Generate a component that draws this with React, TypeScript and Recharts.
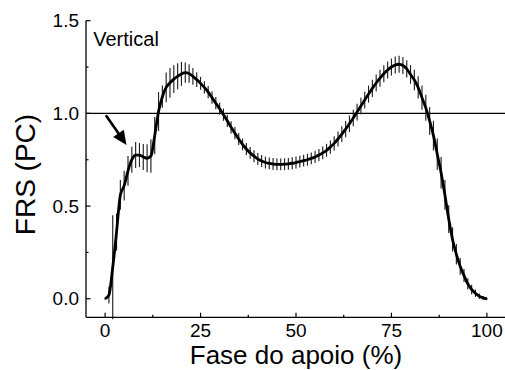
import React from 'react'
import {
  ComposedChart,
  Line,
  ErrorBar,
  XAxis,
  YAxis,
  ReferenceLine,
  ReferenceDot,
} from 'recharts'

const FONT = '"Liberation Sans", Arial, Helvetica, sans-serif'

// stance phase (%)
const phase = [
  0, 1, 2, 3, 4, 5, 6, 7, 8, 9, 10, 11, 12, 13, 14, 15, 16, 17, 18, 19, 20,
  21, 22, 23, 24, 25, 26, 27, 28, 29, 30, 31, 32, 33, 34, 35, 36, 37, 38, 39, 40,
  41, 42, 43, 44, 45, 46, 47, 48, 49, 50, 51, 52, 53, 54, 55, 56, 57, 58, 59, 60,
  61, 62, 63, 64, 65, 66, 67, 68, 69, 70, 71, 72, 73, 74, 75, 76, 77, 78, 79, 80,
  81, 82, 83, 84, 85, 86, 87, 88, 89, 90, 91, 92, 93, 94, 95, 96, 97, 98, 99, 100,
]

// mean vertical GRF (body weight)
const meanFRS = [
  0.0, 0.02, 0.17, 0.36, 0.56, 0.61, 0.69, 0.75, 0.775, 0.775, 0.765,
  0.758, 0.77, 0.88, 1.01, 1.09, 1.14, 1.165, 1.185, 1.2, 1.213,
  1.22, 1.215, 1.2, 1.182, 1.162, 1.14, 1.115, 1.085, 1.055, 1.025,
  0.993, 0.96, 0.925, 0.893, 0.862, 0.833, 0.808, 0.787, 0.769, 0.754,
  0.743, 0.735, 0.73, 0.727, 0.725, 0.725, 0.726, 0.728, 0.731, 0.735,
  0.74, 0.745, 0.75, 0.757, 0.765, 0.775, 0.787, 0.801, 0.818, 0.838,
  0.862, 0.888, 0.915, 0.944, 0.975, 1.007, 1.04, 1.072, 1.104, 1.135,
  1.164, 1.19, 1.214, 1.234, 1.25, 1.261, 1.265, 1.258, 1.24, 1.21,
  1.18, 1.14, 1.085, 1.03, 0.96, 0.88, 0.78, 0.68, 0.56, 0.43,
  0.32, 0.24, 0.175, 0.125, 0.08, 0.05, 0.03, 0.014, 0.005, 0.0,
]

// standard deviation
const sdFRS = [
  0.005, 0.045, 0.28, 0.1, 0.08, 0.08, 0.08, 0.07, 0.07, 0.065, 0.07,
  0.075, 0.09, 0.1, 0.105, 0.06, 0.08, 0.08, 0.075, 0.07, 0.065,
  0.055, 0.05, 0.045, 0.04, 0.035, 0.033, 0.033, 0.033, 0.033, 0.033,
  0.033, 0.033, 0.033, 0.033, 0.032, 0.032, 0.032, 0.032, 0.032, 0.032,
  0.032, 0.032, 0.032, 0.032, 0.032, 0.032, 0.032, 0.032, 0.032, 0.032,
  0.032, 0.032, 0.032, 0.032, 0.033, 0.033, 0.034, 0.035, 0.036, 0.038,
  0.04, 0.042, 0.044, 0.045, 0.045, 0.045, 0.045, 0.045, 0.046, 0.046,
  0.046, 0.046, 0.046, 0.046, 0.046, 0.046, 0.046, 0.046, 0.047, 0.05,
  0.055, 0.06, 0.065, 0.07, 0.075, 0.08, 0.085, 0.085, 0.08, 0.075,
  0.065, 0.055, 0.045, 0.035, 0.03, 0.025, 0.02, 0.015, 0.01, 0.005,
]

const xTicks = [0, 12.5, 25, 37.5, 50, 62.5, 75, 87.5, 100]
const xMajor = [0, 25, 50, 75, 100]
const yTicks = [0, 0.25, 0.5, 0.75, 1, 1.25, 1.5]
const yMajor = [0, 0.5, 1, 1.5]

const chartData = phase.map((p, i) => ({
  phase: p,
  mean: meanFRS[i],
  sd: sdFRS[i],
}))

const BottomTick = (props: any) => {
  const { x, y, payload } = props
  const major = xMajor.includes(payload.value)
  return (
    <g>
      <line x1={x} x2={x} y1={y} y2={y - (major ? 4.5 : 2.5)} stroke="#000" strokeWidth={1.2} />
      {major && (
        <text x={x} y={y + 20} textAnchor="middle" fontSize={19} fontFamily={FONT} fill="#000">
          {payload.value}
        </text>
      )}
    </g>
  )
}

const TopTick = (props: any) => {
  const { x, y, payload } = props
  const major = xMajor.includes(payload.value)
  return <line x1={x} x2={x} y1={y} y2={y + (major ? 4.5 : 2.5)} stroke="#000" strokeWidth={1.2} />
}

const LeftTick = (props: any) => {
  const { x, y, payload } = props
  const major = yMajor.includes(payload.value)
  return (
    <g>
      <line x1={x} x2={x + (major ? 4.5 : 2.5)} y1={y} y2={y} stroke="#000" strokeWidth={1.2} />
      {major && (
        <text x={x - 7} y={y + 6.6} textAnchor="end" fontSize={19} fontFamily={FONT} fill="#000">
          {payload.value.toFixed(1)}
        </text>
      )}
    </g>
  )
}

const RightTick = (props: any) => {
  const { x, y, payload } = props
  const major = yMajor.includes(payload.value)
  return <line x1={x} x2={x - (major ? 4.5 : 2.5)} y1={y} y2={y} stroke="#000" strokeWidth={1.2} />
}

const Arrow = (p: any) => {
  const { x1, y1, x2, y2 } = p
  const dx = x2 - x1
  const dy = y2 - y1
  const len = Math.hypot(dx, dy) || 1
  const ux = dx / len
  const uy = dy / len
  const hl = 14
  const hw = 6.5
  const bx = x2 - ux * hl
  const by = y2 - uy * hl
  return (
    <g>
      <line x1={x1} y1={y1} x2={bx + ux * 2} y2={by + uy * 2} stroke="#000" strokeWidth={2.6} />
      <polygon
        points={`${x2},${y2} ${bx - uy * hw},${by + ux * hw} ${bx + uy * hw},${by - ux * hw}`}
        fill="#000"
      />
    </g>
  )
}

const App = () => {
  return (
    <div style={{ position: 'absolute', left: 0, top: 0, width: 505, height: 370, overflow: 'hidden', background: '#fff' }}>
      <ComposedChart
        width={506}
        height={370}
        data={chartData}
        margin={{ top: 20.7, right: 0, left: 0, bottom: 0 }}
      >
        <XAxis
          dataKey="phase"
          type="number"
          domain={[-5, 105]}
          ticks={xTicks}
          interval={0}
          tickSize={0}
          tickMargin={0}
          tickLine={false}
          tick={<BottomTick />}
          height={52.7}
          axisLine={{ stroke: '#000', strokeWidth: 1.3 }}
          allowDataOverflow
          label={{
            content: (p: any) => {
              const vb = p.viewBox || { x: 86, y: 317.3, width: 420, height: 52.7 }
              return (
                <text
                  x={vb.x + vb.width / 2}
                  y={vb.y + 46.7}
                  textAnchor="middle"
                  fontSize={26}
                  fontFamily={FONT}
                  fill="#000"
                >
                  Fase do apoio (%)
                </text>
              )
            },
          }}
        />
        <XAxis
          xAxisId="top"
          dataKey="phase"
          type="number"
          orientation="top"
          domain={[-5, 105]}
          ticks={xTicks}
          interval={0}
          tickSize={0}
          tickMargin={0}
          tickLine={false}
          tick={<TopTick />}
          height={0}
          axisLine={{ stroke: '#000', strokeWidth: 1.3 }}
          allowDataOverflow
        />
        <YAxis
          type="number"
          domain={[-0.1, 1.5]}
          ticks={yTicks}
          interval={0}
          tickSize={0}
          tickMargin={0}
          tickLine={false}
          tick={<LeftTick />}
          width={86}
          axisLine={{ stroke: '#000', strokeWidth: 1.3 }}
          allowDataOverflow
          label={{
            content: (p: any) => {
              const vb = p.viewBox || { x: 0, y: 20.7, width: 86, height: 296.6 }
              const cx = vb.x + 35
              const cy = vb.y + vb.height / 2 + 5.5
              return (
                <text
                  x={cx}
                  y={cy}
                  transform={`rotate(-90 ${cx} ${cy})`}
                  textAnchor="middle"
                  fontSize={28}
                  fontFamily={FONT}
                  fill="#000"
                >
                  FRS (PC)
                </text>
              )
            },
          }}
        />
        <YAxis
          yAxisId="right"
          type="number"
          orientation="right"
          domain={[-0.1, 1.5]}
          ticks={yTicks}
          interval={0}
          tickSize={0}
          tickMargin={0}
          tickLine={false}
          tick={<RightTick />}
          width={0}
          axisLine={{ stroke: '#000', strokeWidth: 1.3 }}
          allowDataOverflow
        />
        <ReferenceLine y={1} stroke="#000" strokeWidth={1.2} />
        <Line
          dataKey="mean"
          stroke="none"
          dot={false}
          activeDot={false}
          legendType="none"
          isAnimationActive={false}
        >
          <ErrorBar dataKey="sd" width={0} stroke="#222" strokeWidth={1.15} direction="y" />
        </Line>
        <Line
          type="monotone"
          dataKey="mean"
          stroke="#000"
          strokeWidth={2.8}
          dot={false}
          activeDot={false}
          legendType="none"
          isAnimationActive={false}
        />
        <ReferenceLine
          segment={[
            { x: 0.2, y: 0.99 },
            { x: 5.6, y: 0.83 },
          ]}
          ifOverflow="visible"
          shape={Arrow}
        />
        <ReferenceDot
          x={-3.1}
          y={1.362}
          r={0}
          ifOverflow="visible"
          shape={(p: any) => (
            <text x={p.cx} y={p.cy} fontSize={20} fontFamily={FONT} fill="#000">
              Vertical
            </text>
          )}
        />
      </ComposedChart>
    </div>
  )
}

export default App
